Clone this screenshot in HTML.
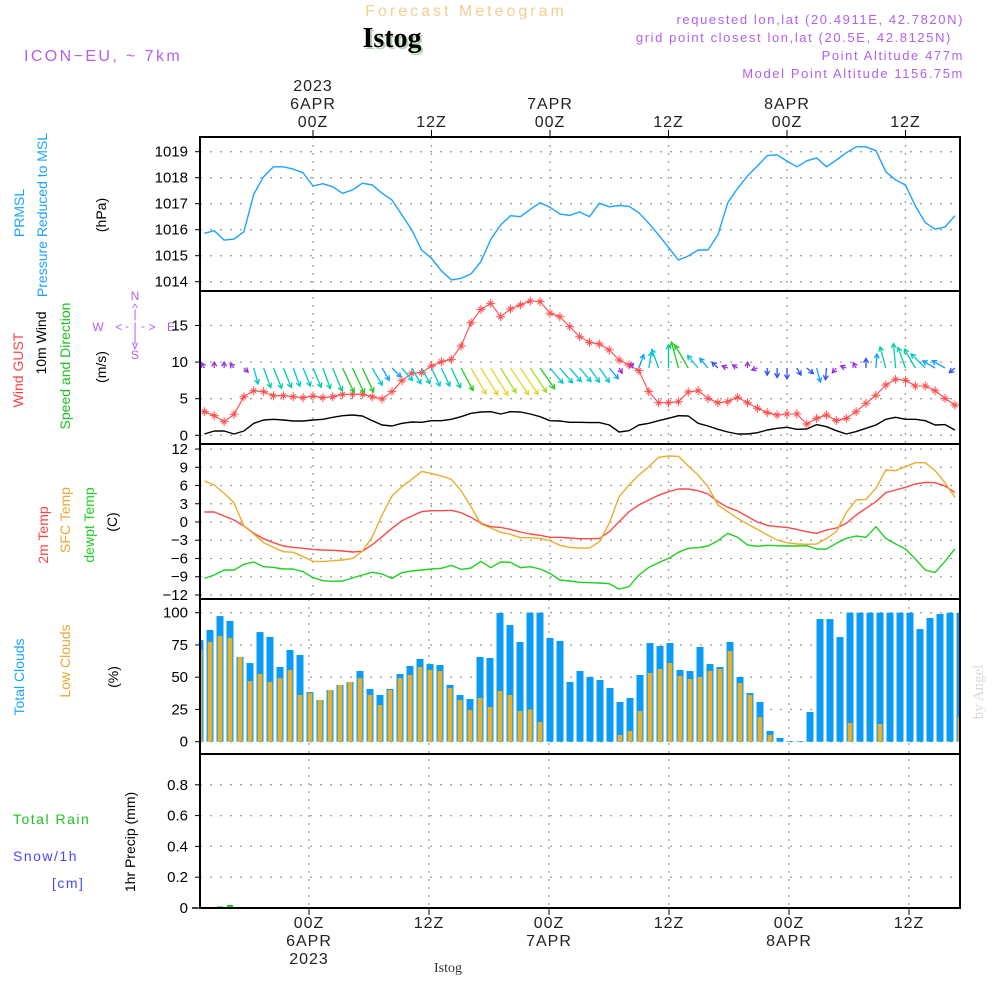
<!DOCTYPE html>
<html><head><meta charset="utf-8"><style>
html,body{margin:0;padding:0;background:#fff;}
svg{display:block;font-family:"Liberation Sans",sans-serif;}
</style></head><body>
<svg id="chart" width="1000" height="1000" viewBox="0 0 1000 1000" xmlns="http://www.w3.org/2000/svg">
<g id="header">
<text x="466" y="16" text-anchor="middle" font-size="16" fill="#f3cf8e" letter-spacing="3">Forecast Meteogram</text>
<text x="394" y="49" text-anchor="middle" font-size="28" font-weight="bold" font-family="Liberation Serif,serif" fill="#b8d4b8">Istog</text>
<text x="392" y="47" text-anchor="middle" font-size="28" font-weight="bold" font-family="Liberation Serif,serif" fill="#000">Istog</text>
<text x="24" y="61" font-size="16" fill="#b060f0" letter-spacing="2.4">ICON−EU, ~ 7km</text>
<g font-size="13" fill="#b060f0" text-anchor="end" letter-spacing="1.6">
<text x="964" y="24">requested lon,lat (20.4911E, 42.7820N)</text>
<text x="952" y="42">grid point closest lon,lat (20.5E, 42.8125N)</text>
<text x="964" y="60">Point Altitude 477m</text>
<text x="964" y="78">Model Point Altitude 1156.75m</text>
</g>
</g>
<g id="grid"></g>
<g id="marks"></g>
<g id="frames"></g>
<g id="labels" font-size="15">
<text transform="translate(24,213) rotate(-90)" text-anchor="middle" fill="#1aa3ff" font-size="14">PRMSL</text>
<text transform="translate(47,215) rotate(-90)" text-anchor="middle" fill="#1aa3ff" font-size="14">Pressure Reduced to MSL</text>
<text transform="translate(106,215) rotate(-90)" text-anchor="middle" fill="#000" font-size="14">(hPa)</text>
<text transform="translate(23,370) rotate(-90)" text-anchor="middle" fill="#ff4040" font-size="14">Wind GUST</text>
<text transform="translate(46,343) rotate(-90)" text-anchor="middle" fill="#000" font-size="14">10m Wind</text>
<text transform="translate(70,366) rotate(-90)" text-anchor="middle" fill="#20c020" font-size="14">Speed and Direction</text>
<text transform="translate(106,367) rotate(-90)" text-anchor="middle" fill="#000" font-size="14">(m/s)</text>
<g fill="#b060f0" font-size="12" text-anchor="middle">
<text x="135" y="300">N</text><text x="135" y="312">^</text><text x="135" y="318">|</text><text x="98" y="331">W</text>
<text x="119" y="331">&lt;</text><text x="127" y="330">-</text><text x="135" y="331">|</text><text x="143" y="330">-</text><text x="152" y="331">&gt;</text><text x="171" y="331">E</text>
<text x="135" y="342">|</text><text x="135" y="349">v</text><text x="135" y="359">S</text>
</g>
<text transform="translate(48,535) rotate(-90)" text-anchor="middle" fill="#ff4040" font-size="14">2m Temp</text>
<text transform="translate(70,520) rotate(-90)" text-anchor="middle" fill="#e8a830" font-size="14">SFC Temp</text>
<text transform="translate(94,525) rotate(-90)" text-anchor="middle" fill="#20d020" font-size="14">dewpt Temp</text>
<text transform="translate(117,522) rotate(-90)" text-anchor="middle" fill="#000" font-size="14">(C)</text>
<text transform="translate(24,677) rotate(-90)" text-anchor="middle" fill="#1aa3ff" font-size="14">Total Clouds</text>
<text transform="translate(70,661) rotate(-90)" text-anchor="middle" fill="#e8a830" font-size="14">Low Clouds</text>
<text transform="translate(118,677) rotate(-90)" text-anchor="middle" fill="#000" font-size="14">(%)</text>
<text x="13" y="824" fill="#20c020" font-size="14" letter-spacing="1.5">Total  Rain</text>
<text x="13" y="861" fill="#4848ff" font-size="14" letter-spacing="1.5">Snow/1h</text>
<text x="52" y="888" fill="#4848ff" font-size="14" letter-spacing="1.5">[cm]</text>
<text transform="translate(135,842) rotate(-90)" text-anchor="middle" fill="#000" font-size="14">1hr Precip (mm)</text>
<text transform="translate(983,692) rotate(-90)" text-anchor="middle" fill="#d4dcd4" font-size="15" font-family="Liberation Serif,serif">by Angel</text>
<text x="448" y="972" text-anchor="middle" fill="#333" font-size="14" font-family="Liberation Serif,serif">Istog</text>
</g>
</svg>
<script>
// ---- data (hourly from h=-11 to h=65 relative to 00Z 6APR) ----
const pressure = [1015.86,1015.96,1015.6,1015.64,1015.92,1017.37,1018.04,1018.42,1018.42,1018.33,1018.19,1017.68,1017.77,1017.65,1017.4,1017.53,1017.79,1017.72,1017.4,1017.14,1016.57,1015.99,1015.22,1014.9,1014.42,1014.07,1014.13,1014.3,1014.77,1015.63,1016.18,1016.54,1016.5,1016.78,1017.04,1016.86,1016.6,1016.55,1016.68,1016.5,
1017.02,1016.88,1016.93,1016.9,1016.65,1016.25,1015.8,1015.32,1014.83,1014.99,1015.22,1015.22,1015.8,1017.04,1017.59,1018.07,1018.45,1018.85,1018.88,1018.64,1018.42,1018.65,1018.76,1018.42,1018.68,1018.96,1019.19,1019.19,1019.04,1018.23,1017.91,1017.72,1016.91,1016.27,1016.02,1016.1,1016.54];
const gust = [3.23,2.68,1.86,2.87,5.27,6.09,5.96,5.41,5.41,5.27,5.14,5.36,5.14,5.27,5.6,5.6,5.6,5.27,4.96,5.96,7.46,8.47,8.56,9.47,10.05,10.38,12.2,15.38,17.2,18.03,16.2,17.25,17.8,18.35,18.26,16.67,16.2,14.84,13.47,12.7,
12.47,11.65,10.29,9.6,8.83,5.96,4.45,4.45,4.59,5.92,6.09,5.05,4.45,4.59,5.19,4.45,3.69,3.09,2.77,2.91,2.91,1.54,2.32,2.77,2.0,2.32,3.22,4.37,5.46,6.87,7.65,7.51,6.73,6.73,6.09,5.05,4.14];
const windSpeed = [0.18,0.59,0.59,0.18,0.59,1.64,2.09,2.19,2.09,1.95,1.95,2.09,2.19,2.46,2.68,2.77,2.64,1.99,1.41,1.27,1.64,1.82,1.77,1.99,1.99,2.19,2.54,3.0,3.18,3.23,2.91,3.23,3.18,2.91,2.54,1.99,1.95,1.77,1.77,1.73,
1.73,1.41,0.45,0.63,1.41,1.64,1.99,2.32,2.68,2.64,1.64,1.27,0.82,0.45,0.18,0.18,0.36,0.72,0.96,1.09,0.82,0.86,1.46,1.18,0.63,0.18,0.5,0.96,1.41,2.19,2.46,2.19,2.19,1.99,1.41,1.46,0.72];
const windDir = [330,0,0,320,135,165,160,158,158,160,158,157,160,158,155,155,155,150,150,135,140,150,152,155,155,155,152,150,148,148,148,146,146,146,145,140,140,140,140,145,
145,140,150,45,20,10,340,0,345,330,320,320,315,290,300,0,250,180,180,180,150,130,165,185,220,290,330,0,5,345,355,340,330,315,300,300,230];
const temp2m = [1.64,1.64,0.99,0.33,-0.66,-1.86,-2.74,-3.4,-3.95,-4.17,-4.33,-4.5,-4.6,-4.66,-4.77,-4.93,-4.82,-3.73,-2.41,-1.04,0.22,0.99,1.7,1.86,1.86,1.92,1.53,0.77,-0.22,-0.77,-0.88,-1.21,-1.64,-1.97,-2.19,-2.52,-2.52,-2.63,-2.74,-2.74,
-2.69,-1.59,0.05,1.7,2.8,3.62,4.39,4.99,5.43,5.43,5.15,4.6,3.34,2.41,1.81,0.88,0,-0.55,-0.77,-0.88,-1.21,-1.59,-1.86,-1.32,-0.99,-0.22,1.15,2.25,3.34,4.82,5.26,5.7,6.25,6.52,6.47,5.92,4.88];
const tempSfc = [6.74,6.09,4.71,3.18,-0.66,-1.97,-3.4,-4.17,-4.88,-4.99,-5.7,-6.47,-6.52,-6.36,-6.25,-5.98,-4.82,-2.41,1.15,4.28,5.81,7.02,8.33,8.0,7.57,7.02,5.15,2.52,-0.33,-0.99,-1.7,-2.03,-2.58,-2.58,-2.69,-3.07,-3.84,-4.17,-4.28,-4.28,
-3.24,-0.22,4.16,6.09,7.73,9.1,10.64,10.86,10.8,9.21,7.73,5.81,2.8,1.7,0.6,-0.33,-1.21,-2.14,-2.96,-3.4,-3.62,-3.67,-3.62,-2.69,-1.59,1.53,3.62,3.72,5.54,8.55,8.44,9.1,9.76,9.76,8.44,6.47,4.06];
const dewpt = [-9.27,-8.72,-7.89,-7.89,-6.96,-6.58,-7.35,-7.46,-7.73,-7.73,-8.17,-9.15,-9.65,-9.76,-9.7,-9.21,-8.72,-8.28,-8.55,-9.27,-8.33,-8.06,-7.89,-7.73,-7.62,-7.13,-7.79,-7.57,-6.47,-7.51,-6.58,-6.63,-7.51,-7.35,-7.73,-8.44,-9.54,-9.7,-9.92,-9.98,
-10.03,-10.14,-11.02,-10.64,-8.72,-7.46,-6.69,-5.98,-4.99,-4.33,-4.22,-3.95,-3.07,-1.86,-2.52,-3.78,-4.0,-3.84,-3.89,-3.95,-3.95,-3.89,-4.44,-4.44,-3.51,-2.69,-2.3,-2.52,-0.77,-2.69,-3.62,-4.44,-6.09,-7.89,-8.33,-6.47,-4.44];
const totalClouds = [78.8,86.6,97.4,93.6,65.7,61,85,81.2,57.9,71.1,67.2,38.5,32.3,40.1,44,46.3,54.8,40.9,36.2,40.9,52.5,58.7,64.1,60.2,59.5,44,36.2,33.1,65.7,64.9,99.8,90.5,77.3,100,100,80.4,78.1,46.3,54.8,50.2,
47.8,41.6,30.8,33.9,51.7,76.5,74.2,76.5,55.6,54.8,73.4,60.2,57.9,77.3,50.2,37.7,30.8,8.3,2.9,0.5,0.5,23,95.1,95.1,81.2,100,100,100,100,100,100,100,87.4,95.9,99,100,100];
const lowClouds = [71.1,77.3,81.9,80.4,65.7,47,52.5,46.3,49.4,55.6,36.2,37.7,32.3,40.1,44,46.3,49.4,36.2,28.4,40.1,49.4,51.7,57.9,55.6,54.8,41.6,32.3,24.6,33.9,26.9,39.3,36.2,23.8,24.9,15.3,0,0,0,0,0,
0,0,5.2,8.3,23.8,53.3,56.4,61,50.9,48.6,50.2,54.8,56.4,70.3,45.5,36.2,19.1,5.2,0,0,0,0,0,0,0,14.5,0,0,13.7,0,0,0,0,0,0,0,19.1];
const precip = [0,0,0.01,0.02,0,0,0,0,0,0,0,0,0,0,0,0,0,0,0,0,0,0,0,0,0,0,0,0,0,0,0,0,0,0,0,0,0,0,0,0,0,0,0,0,0,0,0,0,0,0,0,0,0,0,0,0,0,0,0,0,0,0,0,0,0,0,0,0,0,0,0,0,0,0,0,0,0];
const startHour = -11;
const pTicks = [1014,1015,1016,1017,1018,1019];
const wTicks = [0,5,10,15];
const tTicks = [-12,-9,-6,-3,0,3,6,9,12];
const cTicks = [0,25,50,75,100];
const rTicks = [0,0.2,0.4,0.6,0.8];
const topTimeLabels = [["2023","6APR","00Z"],["","","12Z"],["","7APR","00Z"],["","","12Z"],["","8APR","00Z"],["","","12Z"]];
const topTimeHours = [0,12,24,36,48,60];
const bottomTimeLabels = [["00Z","6APR","2023"],["12Z","",""],["00Z","7APR",""],["12Z","",""],["00Z","8APR",""],["12Z","",""]];

// ---- axes ----
const L=200,R=960;
const xH = h => 313 + h*9.875;
const xB = k => 200 + k*10;
const yP = p => 151.7 + (1019-p)*26;
const yW = w => 435.3 - w*7.32;
const yT = t => 522 - t*6.08;
const yC = c => 741.7 - c*1.29;
const yR = r => 908 - r*154;
const panels=[[137,291],[291,444],[444,599],[599,754],[754,908]];

const NS="http://www.w3.org/2000/svg";
function mk(tag,attrs,parent){const e=document.createElementNS(NS,tag);for(const k in attrs)e.setAttribute(k,attrs[k]);parent.appendChild(e);return e;}
const grid=document.getElementById('grid'),marks=document.getElementById('marks'),frames=document.getElementById('frames'),labels=document.getElementById('labels');

const defs=mk('defs',{},document.getElementById('chart'));
const cp=mk('clipPath',{id:'plotclip'},defs);mk('rect',{x:L,y:137,width:R-L,height:771},cp);
marks.setAttribute('clip-path','url(#plotclip)');

function hGrid(ticks,yf,fmt){
  ticks.forEach(t=>{
    const y=yf(t);
    const g=mk('line',{x1:L,x2:R,y1:y,y2:y,stroke:'#a0a0a0','stroke-width':1.3,'stroke-dasharray':'2,8'},grid);
    
    
    mk('line',{x1:L-5,x2:L,y1:y,y2:y,stroke:'#000','stroke-width':1},grid);
    const tx=mk('text',{x:L-12,y:y+5,'text-anchor':'end','font-size':15,fill:'#000'},labels);
    tx.textContent=fmt?fmt(t):String(t);
    
    
  });
}
hGrid(pTicks,yP);hGrid(wTicks,yW);hGrid(tTicks,yT,t=>t<0?'−'+(-t):String(t));hGrid(cTicks,yC);hGrid(rTicks,yR,t=>t===0?'0':t.toFixed(1));

topTimeHours.forEach((h,i)=>{
  const x=xH(h);
  const v=mk('line',{x1:x,x2:x,y1:137,y2:599,stroke:'#a0a0a0','stroke-width':1.3,'stroke-dasharray':'2,6'},grid);
  
  
  mk('line',{x1:x,x2:x,y1:130,y2:137,stroke:'#000'},grid);
  const xb=xB(h-startHour)-1;
  const v2=mk('line',{x1:xb,x2:xb,y1:599,y2:908,stroke:'#a0a0a0','stroke-width':1.3,'stroke-dasharray':'2,6'},grid);
  
  
  mk('line',{x1:xb,x2:xb,y1:908,y2:915,stroke:'#000'},grid);
  topTimeLabels[i].forEach((s,j)=>{ if(!s)return;
    const t=mk('text',{x:x,y:91+j*18,'text-anchor':'middle','font-size':16,fill:'#222','letter-spacing':1},labels);t.textContent=s;
    
    });
  bottomTimeLabels[i].forEach((s,j)=>{ if(!s)return;
    const t=mk('text',{x:xb,y:928+j*18,'text-anchor':'middle','font-size':16,fill:'#222','letter-spacing':1},labels);t.textContent=s;
    
    });
});

totalClouds.forEach((c,k)=>{
  const x=xB(k);
  const b=mk('rect',{x:x-3.5,y:yC(c),width:7,height:Math.max(0,yC(0)-yC(c)),fill:'#0a9cf5'},marks);
  
  
  const lc=lowClouds[k];
  const o=mk('rect',{x:x-2.3,y:yC(lc),width:4.6,height:Math.max(0,yC(0)-yC(lc)),fill:'#e8ae2e'},marks);
  
  
});
precip.forEach((r,k)=>{ if(r<=0)return;
  const b=mk('rect',{x:xB(k)-3,y:yR(r),width:6,height:yR(0)-yR(r),fill:'#20c020'},marks);
  
  
});

function line(arr,yf,color,name,w){
  const d=arr.map((v,i)=>(i?'L':'M')+xH(startHour+i).toFixed(1)+','+yf(v).toFixed(1)).join('');
  const p=mk('path',{d:d,fill:'none',stroke:color,'stroke-width':w||1.4,'stroke-linejoin':'round'},marks);
  
  
}
line(pressure,yP,'#1aa3ff','pressure-line');
line(windSpeed,yW,'#000','wind-speed-line');
line(gust,yW,'#ff4848','gust-line',1.1);
gust.forEach((g,i)=>{
  const x=xH(startHour+i),y=yW(g);
  const m=mk('path',{d:`M${x-4.5},${y}h9M${x},${y-4.5}v9M${x-2.5},${y-2.5}l5,5M${x-2.5},${y+2.5}l5,-5`,stroke:'#ff5050','stroke-width':1},marks);
  
  
});
line(dewpt,yT,'#20d020','dewpt-line');
line(temp2m,yT,'#ff4848','temp2m-line');
line(tempSfc,yT,'#e8ae2e','sfc-temp-line');

function wcol(s){ if(s<0.7)return '#9a30e0'; if(s<1.2)return '#3050ff'; if(s<1.6)return '#10a0ff'; if(s<2.0)return '#00c8d0'; if(s<2.5)return '#00d0a0'; if(s<2.8)return '#20cc20'; if(s<3.0)return '#a8dc20'; return '#e6d62a'; }
windSpeed.forEach((s,i)=>{
  const x0=xH(startHour+i),y0=368,Lg=Math.max(6,10*s),a=windDir[i]*Math.PI/180;
  const dx=Math.sin(a),dy=-Math.cos(a);
  const x1=x0+Lg*dx,y1=y0+Lg*dy,h=5;
  const ax=x1-h*(dx*0.87-dy*0.5),ay=y1-h*(dy*0.87+dx*0.5);
  const bx=x1-h*(dx*0.87+dy*0.5),by=y1-h*(dy*0.87-dx*0.5);
  const p=mk('path',{d:`M${x0},${y0}L${x1},${y1}M${ax},${ay}L${x1},${y1}L${bx},${by}`,stroke:wcol(s),'stroke-width':1.3,fill:'none'},marks);
  
  
});

panels.forEach(([a,b],i)=>{
  const r=mk('rect',{x:L,y:a,width:R-L,height:b-a,fill:'none',stroke:'#000','stroke-width':2},frames);
  
  
});
const bl=mk('line',{x1:192,x2:R,y1:908,y2:908,stroke:'#000','stroke-width':1.5,'stroke-dasharray':'6,4'},frames);


</script>
</body></html>
